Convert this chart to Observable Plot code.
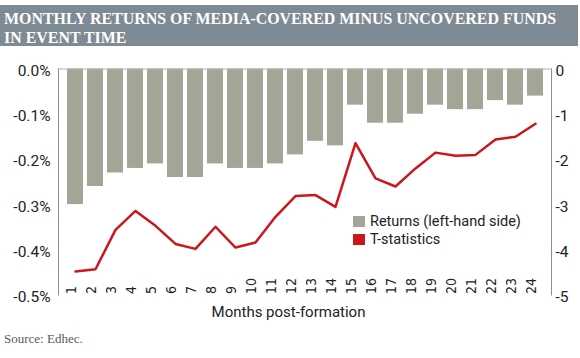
<!DOCTYPE html>
<html>
<head>
<meta charset="utf-8">
<script src="https://cdn.jsdelivr.net/npm/d3@7"></script>
<script src="https://cdn.jsdelivr.net/npm/@observablehq/plot@0.6"></script>
<style>
  html, body { margin: 0; padding: 0; background: #fff; }
  #wrap { position: relative; width: 580px; height: 358px; overflow: hidden; }
  #banner { position: absolute; left: 0; top: 5px; width: 578px; height: 41px; background: #7e8a94; }
  #title { position: absolute; left: 4px; top: 3.5px; color: #fff; font-family: "Liberation Serif", serif; font-weight: bold; font-size: 16.5px; transform: scaleX(0.965); transform-origin: 0 0; }
  #title div { height: 19px; line-height: 19px; white-space: nowrap; }
  #chart { position: absolute; left: 0; top: 46px; }
  #legend { position: absolute; left: 353px; top: 212px; font-family: Roboto, sans-serif; font-size: 14.5px; color: #222; }
  .item { display: flex; align-items: center; height: 18px; }
  .sw { width: 12px; height: 11px; margin-right: 5px; }
  #source { position: absolute; left: 4px; top: 331px; font-family: "Liberation Serif", serif; font-size: 13px; color: #5a5a5a; }
</style>
</head>
<body>
<div id="wrap">
  <div id="banner"><div id="title"></div></div>
  <div id="chart"></div>
  <div id="legend"></div>
  <div id="source"></div>
</div>
<script>
const titleLines = ["MONTHLY RETURNS OF MEDIA-COVERED MINUS UNCOVERED FUNDS", "IN EVENT TIME"];
const sourceText = "Source: Edhec.";
const xLabel = "Months post-formation";
const months = [1,2,3,4,5,6,7,8,9,10,11,12,13,14,15,16,17,18,19,20,21,22,23,24];
const returns = [-0.30,-0.26,-0.23,-0.22,-0.21,-0.24,-0.24,-0.21,-0.22,-0.22,-0.21,-0.19,-0.16,-0.17,-0.08,-0.12,-0.12,-0.10,-0.08,-0.09,-0.09,-0.07,-0.08,-0.06];
const tstats = [-4.48,-4.43,-3.56,-3.14,-3.47,-3.87,-3.98,-3.49,-3.95,-3.84,-3.27,-2.81,-2.79,-3.05,-1.64,-2.42,-2.60,-2.20,-1.85,-1.92,-1.90,-1.56,-1.50,-1.21];
const leftTicks = [0, -0.1, -0.2, -0.3, -0.4, -0.5];
const tPerReturn = 10; // right axis: 0..-5 mapped onto 0..-0.5%
const legendLabels = ["Returns (left-hand side)", "T-statistics"];
const barColor = "#a4a597";
const lineColor = "#cc161d";

document.getElementById("title").innerHTML = titleLines.map(l => `<div>${l}</div>`).join("");
document.getElementById("source").textContent = sourceText;
document.getElementById("legend").innerHTML = legendLabels.map((l, i) =>
  `<div class="item"><div class="sw" style="background:${i === 0 ? barColor : lineColor}"></div>${l}</div>`).join("");

const data = months.map((m, i) => ({month: m, ret: returns[i], t: tstats[i]}));
const narrow = "'Liberation Sans Narrow', 'DejaVu Sans Condensed', Roboto, sans-serif";

const chart = Plot.plot({
  width: 580,
  height: 280,
  marginTop: 22.5,
  marginBottom: 31.5,
  marginLeft: 58,
  marginRight: 29,
  style: {fontFamily: "Roboto, sans-serif", fontSize: "15px", color: "#222", background: "transparent"},
  x: {type: "band", domain: months, padding: 0.22, axis: null},
  y: {domain: [-0.5, 0], axis: null},
  marks: [
    Plot.barY(data, {x: "month", y: "ret", fill: barColor}),
    Plot.ruleY([0], {stroke: "#b5b5b5", strokeWidth: 1}),
    Plot.frame({anchor: "left", stroke: "#8f8f8f"}),
    Plot.frame({anchor: "right", stroke: "#8f8f8f"}),
    Plot.axisY({anchor: "left", ticks: leftTicks, tickSize: 0, tickPadding: 8, label: null, fontSize: 15.5, dy: 2,
      tickFormat: d => (d === 0 ? "0.0" : d.toFixed(1)) + "%"}),
    Plot.axisY({anchor: "right", ticks: leftTicks, tickSize: 0, tickPadding: 4, label: null, fontSize: 15.5, dy: 2,
      tickFormat: d => String(Math.round(d * tPerReturn))}),
    Plot.lineY(data, {x: "month", y: d => d.t / tPerReturn, stroke: lineColor, strokeWidth: 2.5}),
    Plot.text(months, {x: d => d, frameAnchor: "bottom", rotate: -90, textAnchor: "start", fontSize: 14, fontFamily: narrow, fill: "#222", dy: -1}),
    Plot.text([xLabel], {frameAnchor: "bottom", dx: -16.5, dy: 22, fontSize: 15, fill: "#222"})
  ]
});
document.getElementById("chart").appendChild(chart);
</script>
</body>
</html>
